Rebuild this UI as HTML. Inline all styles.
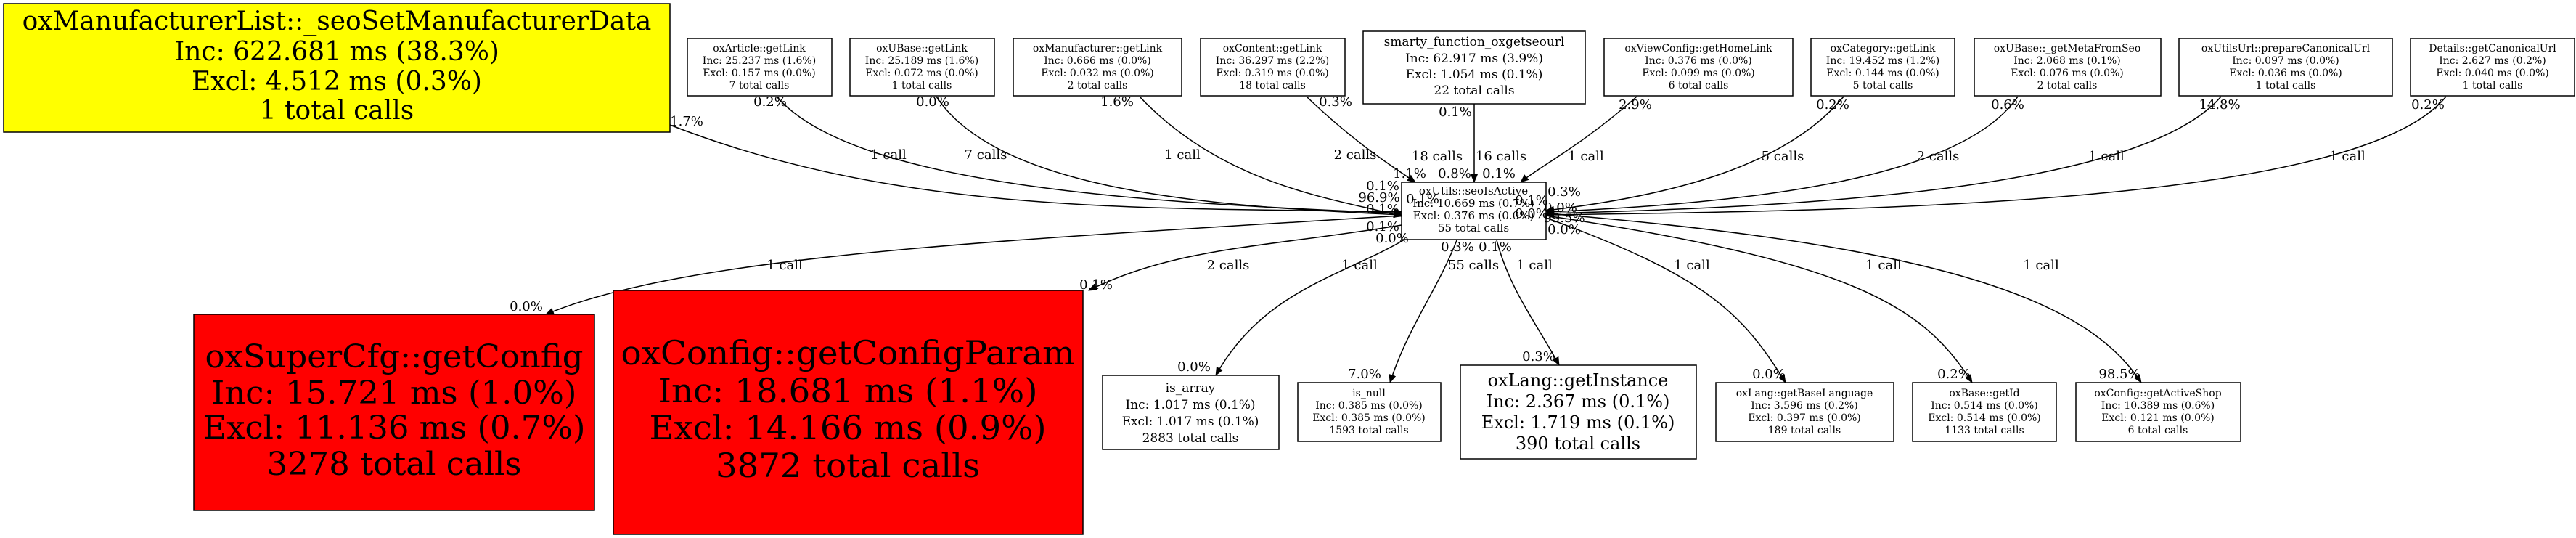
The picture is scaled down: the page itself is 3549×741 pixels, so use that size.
<!DOCTYPE html>
<html><head><meta charset="utf-8"><style>
html,body{margin:0;padding:0;background:#fff;}
svg{display:block;}
text{font-family:"DejaVu Serif","Liberation Serif",serif;fill:#000;}
.s{font-size:14px;}
.e{font-size:18px;}
</style></head><body>
<svg width="3549" height="741" viewBox="0 0 3549 741" xmlns="http://www.w3.org/2000/svg">
<defs><marker id="a" markerWidth="12" markerHeight="10" refX="11" refY="5" orient="auto" markerUnits="userSpaceOnUse"><path d="M0,0 L12,5 L0,10 z" fill="#000"/></marker></defs>
<g fill="none" stroke="#000" stroke-width="1.5" marker-end="url(#a)">
<path d="M923,172 C1250,300 1600,285 1931,292"/>
<path d="M1070,133 C1180,260 1600,280 1931,294"/>
<path d="M1290,133 C1380,270 1700,285 1931,296"/>
<path d="M1570,133 C1690,260 1850,275 1931,298"/>
<path d="M1800,133 C1870,200 1920,230 1950,251"/>
<path d="M2031,143 L2031,251"/>
<path d="M2255,133 C2180,200 2120,230 2095,251"/>
<path d="M2540,133 C2460,230 2300,270 2130,290"/>
<path d="M2780,133 C2700,250 2400,280 2130,292"/>
<path d="M3060,133 C2950,260 2500,285 2130,294"/>
<path d="M3370,133 C3250,280 2600,290 2130,296"/>
<path d="M1931,297 C1400,330 950,350 752,433"/>
<path d="M1931,310 C1750,340 1620,340 1500,400"/>
<path d="M1935,330 C1850,380 1740,400 1675,517"/>
<path d="M2007,331 C1980,400 1940,450 1915,527"/>
<path d="M2062,331 C2080,400 2120,450 2148,503"/>
<path d="M2130,300 C2350,380 2400,430 2460,527"/>
<path d="M2130,297 C2550,360 2650,420 2717,527"/>
<path d="M2130,294 C2700,340 2880,420 2950,527"/>
</g>
<rect x="5" y="5" width="918" height="177" fill="#ff0" stroke="#000" stroke-width="1.5"/>
<g text-anchor="middle" style="font-size:36px">
<text x="464" y="41">oxManufacturerList::_seoSetManufacturerData</text>
<text x="464" y="83">Inc: 622.681 ms (38.3%)</text>
<text x="464" y="124">Excl: 4.512 ms (0.3%)</text>
<text x="464" y="164">1 total calls</text></g>
<g fill="#fff" stroke="#000" stroke-width="1.5">
<rect x="947" y="53" width="199" height="79"/>
<rect x="1171" y="53" width="199" height="79"/>
<rect x="1396" y="53" width="232" height="79"/>
<rect x="1654" y="53" width="199" height="79"/>
<rect x="1878" y="43" width="306" height="100"/>
<rect x="2210" y="53" width="260" height="79"/>
<rect x="2495" y="53" width="198" height="79"/>
<rect x="2720" y="53" width="257" height="79"/>
<rect x="3002" y="53" width="294" height="79"/>
<rect x="3321" y="53" width="226" height="79"/>
<rect x="1931" y="251" width="199" height="79"/>
<rect x="1519" y="517" width="243" height="102"/>
<rect x="1788" y="527" width="197" height="81"/>
<rect x="2012" y="503" width="325" height="129"/>
<rect x="2364" y="527" width="245" height="81"/>
<rect x="2635" y="527" width="198" height="81"/>
<rect x="2860" y="527" width="227" height="81"/>
</g>
<g fill="#f00" stroke="#000" stroke-width="1.5">
<rect x="267" y="433" width="552" height="270"/>
<rect x="845" y="400" width="647" height="336"/>
</g>
<g class="s" text-anchor="middle">
<text x="1046" y="71">oxArticle::getLink</text><text x="1046" y="88">Inc: 25.237 ms (1.6%)</text><text x="1046" y="105">Excl: 0.157 ms (0.0%)</text><text x="1046" y="122">7 total calls</text>
<text x="1270" y="71">oxUBase::getLink</text><text x="1270" y="88">Inc: 25.189 ms (1.6%)</text><text x="1270" y="105">Excl: 0.072 ms (0.0%)</text><text x="1270" y="122">1 total calls</text>
<text x="1512" y="71">oxManufacturer::getLink</text><text x="1512" y="88">Inc: 0.666 ms (0.0%)</text><text x="1512" y="105">Excl: 0.032 ms (0.0%)</text><text x="1512" y="122">2 total calls</text>
<text x="1753" y="71">oxContent::getLink</text><text x="1753" y="88">Inc: 36.297 ms (2.2%)</text><text x="1753" y="105">Excl: 0.319 ms (0.0%)</text><text x="1753" y="122">18 total calls</text>
<text x="2340" y="71">oxViewConfig::getHomeLink</text><text x="2340" y="88">Inc: 0.376 ms (0.0%)</text><text x="2340" y="105">Excl: 0.099 ms (0.0%)</text><text x="2340" y="122">6 total calls</text>
<text x="2594" y="71">oxCategory::getLink</text><text x="2594" y="88">Inc: 19.452 ms (1.2%)</text><text x="2594" y="105">Excl: 0.144 ms (0.0%)</text><text x="2594" y="122">5 total calls</text>
<text x="2848" y="71">oxUBase::_getMetaFromSeo</text><text x="2848" y="88">Inc: 2.068 ms (0.1%)</text><text x="2848" y="105">Excl: 0.076 ms (0.0%)</text><text x="2848" y="122">2 total calls</text>
<text x="3149" y="71">oxUtilsUrl::prepareCanonicalUrl</text><text x="3149" y="88">Inc: 0.097 ms (0.0%)</text><text x="3149" y="105">Excl: 0.036 ms (0.0%)</text><text x="3149" y="122">1 total calls</text>
<text x="3434" y="71">Details::getCanonicalUrl</text><text x="3434" y="88">Inc: 2.627 ms (0.2%)</text><text x="3434" y="105">Excl: 0.040 ms (0.0%)</text><text x="3434" y="122">1 total calls</text>
<text x="1886" y="546">is_null</text><text x="1886" y="563">Inc: 0.385 ms (0.0%)</text><text x="1886" y="580">Excl: 0.385 ms (0.0%)</text><text x="1886" y="597">1593 total calls</text>
<text x="2486" y="546">oxLang::getBaseLanguage</text><text x="2486" y="563">Inc: 3.596 ms (0.2%)</text><text x="2486" y="580">Excl: 0.397 ms (0.0%)</text><text x="2486" y="597">189 total calls</text>
<text x="2734" y="546">oxBase::getId</text><text x="2734" y="563">Inc: 0.514 ms (0.0%)</text><text x="2734" y="580">Excl: 0.514 ms (0.0%)</text><text x="2734" y="597">1133 total calls</text>
<text x="2973" y="546">oxConfig::getActiveShop</text><text x="2973" y="563">Inc: 10.389 ms (0.6%)</text><text x="2973" y="580">Excl: 0.121 ms (0.0%)</text><text x="2973" y="597">6 total calls</text>
</g>
<g text-anchor="middle" style="font-size:15px">
<text x="2030" y="268">oxUtils::seoIsActive</text><text x="2030" y="285">Inc: 10.669 ms (0.7%)</text><text x="2030" y="302">Excl: 0.376 ms (0.0%)</text><text x="2030" y="319">55 total calls</text>
</g>
<g text-anchor="middle" style="font-size:17px">
<text x="2031" y="63">smarty_function_oxgetseourl</text><text x="2031" y="86">Inc: 62.917 ms (3.9%)</text><text x="2031" y="108">Excl: 1.054 ms (0.1%)</text><text x="2031" y="130">22 total calls</text>
<text x="1640" y="540">is_array</text><text x="1640" y="563">Inc: 1.017 ms (0.1%)</text><text x="1640" y="586">Excl: 1.017 ms (0.1%)</text><text x="1640" y="609">2883 total calls</text>
</g>
<g text-anchor="middle" style="font-size:24px">
<text x="2174" y="532">oxLang::getInstance</text><text x="2174" y="561">Inc: 2.367 ms (0.1%)</text><text x="2174" y="590">Excl: 1.719 ms (0.1%)</text><text x="2174" y="619">390 total calls</text>
</g>
<g text-anchor="middle" style="font-size:44px" lengthAdjust="spacingAndGlyphs">
<text x="543" y="506" textLength="521" lengthAdjust="spacingAndGlyphs">oxSuperCfg::getConfig</text>
<text x="543" y="556" textLength="503" lengthAdjust="spacingAndGlyphs">Inc: 15.721 ms (1.0%)</text>
<text x="543" y="604" textLength="527" lengthAdjust="spacingAndGlyphs">Excl: 11.136 ms (0.7%)</text>
<text x="543" y="654" textLength="351" lengthAdjust="spacingAndGlyphs">3278 total calls</text>
</g>
<g text-anchor="middle" style="font-size:46px">
<text x="1168" y="502" textLength="625" lengthAdjust="spacingAndGlyphs">oxConfig::getConfigParam</text>
<text x="1168" y="554" textLength="523" lengthAdjust="spacingAndGlyphs">Inc: 18.681 ms (1.1%)</text>
<text x="1168" y="605" textLength="547" lengthAdjust="spacingAndGlyphs">Excl: 14.166 ms (0.9%)</text>
<text x="1168" y="657" textLength="364" lengthAdjust="spacingAndGlyphs">3872 total calls</text>
</g>
<g class="e" text-anchor="middle">
<text x="946" y="173">1.7%</text><text x="1224" y="219">1 call</text>
<text x="1061" y="146">0.2%</text><text x="1358" y="219">7 calls</text>
<text x="1285" y="146">0.0%</text><text x="1629" y="219">1 call</text>
<text x="1539" y="146">1.6%</text><text x="1867" y="219">2 calls</text>
<text x="1840" y="146">0.3%</text><text x="1980" y="221">18 calls</text>
<text x="2005" y="160">0.1%</text><text x="2068" y="221">16 calls</text>
<text x="2253" y="150">2.9%</text><text x="2185" y="221">1 call</text>
<text x="2525" y="150">0.2%</text><text x="2456" y="221">5 calls</text>
<text x="2766" y="150">0.6%</text><text x="2670" y="221">2 calls</text>
<text x="3058" y="150">14.8%</text><text x="2902" y="221">1 call</text>
<text x="3345" y="150">0.2%</text><text x="3234" y="221">1 call</text>
<text x="1942" y="245">1.1%</text><text x="2004" y="245">0.8%</text><text x="2065" y="245">0.1%</text>
<text x="1905" y="262">0.1%</text><text x="1900" y="278">96.9%</text><text x="1960" y="280">0.1%</text><text x="1905" y="294">0.1%</text>
<text x="1905" y="318">0.1%</text><text x="1918" y="334">0.0%</text>
<text x="2155" y="270">0.3%</text><text x="2110" y="282">0.1%</text><text x="2150" y="292">0.0%</text><text x="2110" y="300">0.0%</text>
<text x="2155" y="306">99.5%</text><text x="2155" y="322">0.0%</text>
<text x="2008" y="346">0.3%</text><text x="2060" y="346">0.1%</text>
<text x="1081" y="371">1 call</text><text x="725" y="428">0.0%</text>
<text x="1692" y="371">2 calls</text><text x="1510" y="398">0.1%</text>
<text x="1873" y="371">1 call</text><text x="1645" y="511">0.0%</text>
<text x="2030" y="371">55 calls</text><text x="1880" y="521">7.0%</text>
<text x="2114" y="371">1 call</text><text x="2120" y="497">0.3%</text>
<text x="2331" y="371">1 call</text><text x="2437" y="521">0.0%</text>
<text x="2595" y="371">1 call</text><text x="2692" y="521">0.2%</text>
<text x="2812" y="371">1 call</text><text x="2920" y="521">98.5%</text>
</g>
</svg>
</body></html>
